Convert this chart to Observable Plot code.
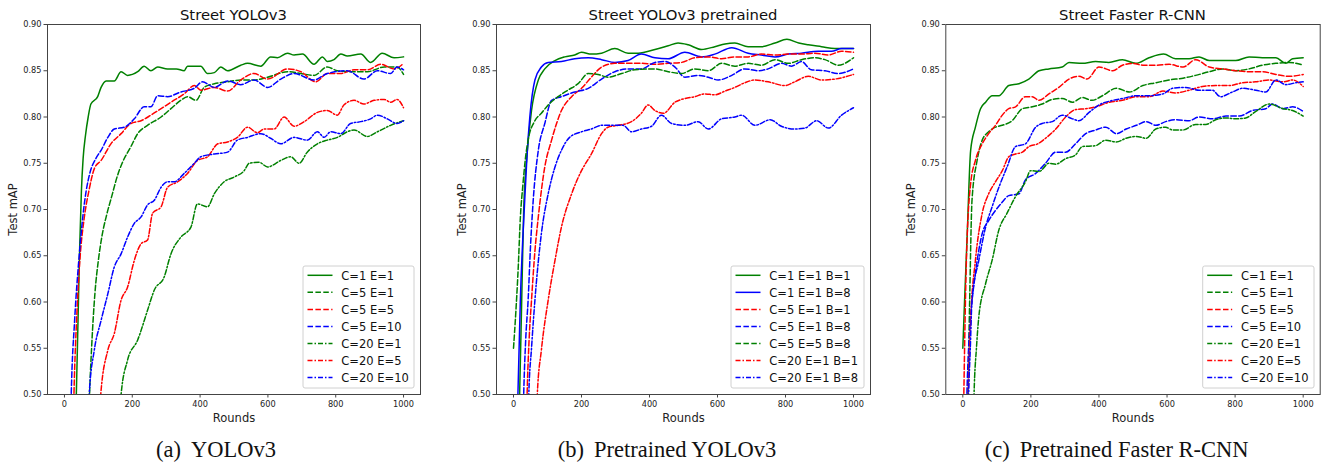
<!DOCTYPE html>
<html><head><meta charset="utf-8">
<script src="https://cdn.jsdelivr.net/npm/d3@7"></script>
<script src="https://cdn.jsdelivr.net/npm/@observablehq/plot@0.6"></script>
<style>
body{margin:0;background:#fff;}
#fig{position:relative;width:1323px;height:466px;overflow:hidden;background:#fff;}
.panel{position:absolute;top:0;}
.panel svg{overflow:visible;}
[aria-label="x-axis label"],[aria-label="y-axis label"]{font-size:11.5px;}
#overlay{position:absolute;left:0;top:0;pointer-events:none;}
</style></head>
<body><div id="fig"></div>
<script>
// ---------- data ----------
const xTicks = [0, 200, 400, 600, 800, 1000];
const yTicks = [0.50, 0.55, 0.60, 0.65, 0.70, 0.75, 0.80, 0.85, 0.90];
const titles = ["Street YOLOv3", "Street YOLOv3 pretrained", "Street Faster R-CNN"];
const captionTags = ["(a)", "(b)", "(c)"];
const captionTexts = ["YOLOv3", "Pretrained YOLOv3", "Pretrained Faster R-CNN"];
const labelsA = ["C=1 E=1", "C=5 E=1", "C=5 E=5", "C=5 E=10", "C=20 E=1", "C=20 E=5", "C=20 E=10"];
const labelsB = ["C=1 E=1 B=1", "C=1 E=1 B=8", "C=5 E=1 B=1", "C=5 E=1 B=8", "C=5 E=5 B=8", "C=20 E=1 B=1", "C=20 E=1 B=8"];
const labelsC = ["C=1 E=1", "C=5 E=1", "C=5 E=5", "C=5 E=10", "C=20 E=1", "C=20 E=5", "C=20 E=10"];

// Panel (a) Street YOLOv3 : [round, mAP]
const a_c1e1 = [[31,0.45],[35,0.50],[40,0.58],[45,0.66],[50,0.72],[55,0.755],[62,0.78],[70,0.80],[78,0.814],[98,0.822],[108,0.832],[123,0.839],[147,0.839],[167,0.849],[186,0.845],[216,0.849],[235,0.855],[255,0.850],[275,0.854],[304,0.852],[330,0.852],[353,0.850],[363,0.855],[402,0.855],[422,0.847],[442,0.848],[461,0.854],[481,0.850],[520,0.856],[540,0.858],[579,0.855],[608,0.865],[628,0.864],[658,0.869],[677,0.867],[702,0.868],[736,0.857],[761,0.865],[775,0.860],[795,0.862],[815,0.868],[834,0.866],[874,0.868],[903,0.859],[937,0.869],[972,0.864],[1000,0.865]];
const a_c5e1 = [[70,0.45],[74,0.50],[80,0.55],[90,0.61],[100,0.645],[110,0.67],[125,0.695],[140,0.715],[155,0.735],[170,0.75],[196,0.768],[216,0.782],[245,0.791],[285,0.800],[314,0.809],[343,0.818],[363,0.822],[388,0.818],[412,0.832],[442,0.836],[481,0.838],[520,0.840],[559,0.840],[599,0.843],[658,0.849],[697,0.847],[736,0.845],[775,0.854],[805,0.850],[844,0.849],[893,0.849],[943,0.854],[981,0.854],[1000,0.846]];
const a_c5e5 = [[25,0.45],[28,0.50],[37,0.59],[46,0.648],[58,0.69],[72,0.72],[89,0.745],[108,0.753],[137,0.771],[167,0.782],[196,0.793],[226,0.796],[255,0.802],[285,0.809],[314,0.816],[353,0.825],[383,0.834],[402,0.829],[442,0.832],[481,0.828],[520,0.840],[559,0.847],[599,0.841],[658,0.852],[697,0.849],[741,0.838],[775,0.847],[815,0.847],[854,0.851],[893,0.851],[933,0.857],[972,0.852],[1000,0.858]];
const a_c5e10 = [[17,0.45],[20,0.50],[30,0.58],[43,0.648],[55,0.695],[64,0.72],[74,0.738],[94,0.756],[108,0.764],[128,0.778],[147,0.787],[177,0.789],[206,0.798],[235,0.811],[255,0.811],[275,0.823],[304,0.822],[343,0.827],[383,0.831],[407,0.838],[442,0.832],[481,0.839],[520,0.835],[559,0.840],[599,0.832],[638,0.841],[677,0.847],[736,0.840],[775,0.847],[834,0.850],[883,0.841],[923,0.850],[962,0.847],[981,0.854],[1000,0.851]];
const a_c20e1 = [[163,0.47],[167,0.50],[186,0.537],[216,0.559],[245,0.591],[265,0.613],[294,0.627],[314,0.652],[343,0.670],[373,0.681],[392,0.706],[422,0.703],[442,0.717],[471,0.730],[500,0.735],[530,0.742],[545,0.750],[574,0.751],[599,0.746],[638,0.753],[667,0.757],[692,0.750],[716,0.762],[746,0.771],[775,0.775],[805,0.778],[834,0.784],[854,0.786],[893,0.779],[923,0.784],[962,0.791],[1000,0.796]];
const a_c20e5 = [[103,0.47],[107,0.50],[128,0.548],[147,0.566],[167,0.602],[186,0.616],[206,0.645],[226,0.663],[245,0.667],[260,0.696],[285,0.703],[304,0.724],[334,0.730],[363,0.739],[392,0.753],[422,0.757],[452,0.771],[481,0.773],[510,0.778],[540,0.789],[569,0.783],[589,0.787],[618,0.787],[648,0.800],[677,0.790],[707,0.795],[746,0.805],[775,0.807],[805,0.802],[824,0.813],[854,0.818],[883,0.814],[913,0.818],[943,0.819],[962,0.816],[981,0.819],[1000,0.810]];
const a_c20e10 = [[69,0.45],[73,0.50],[88,0.548],[108,0.580],[128,0.609],[147,0.638],[167,0.652],[186,0.670],[206,0.685],[226,0.692],[245,0.705],[265,0.710],[285,0.724],[304,0.730],[324,0.730],[353,0.739],[383,0.750],[402,0.757],[442,0.760],[481,0.762],[510,0.775],[540,0.778],[579,0.782],[608,0.777],[638,0.771],[677,0.778],[716,0.775],[746,0.784],[766,0.778],[785,0.784],[815,0.782],[844,0.793],[874,0.795],[903,0.798],[923,0.802],[952,0.798],[981,0.793],[1000,0.796]];

// Panel (b) Street YOLOv3 pretrained
const b_c1e1b1 = [[14,0.45],[18,0.50],[24,0.60],[30,0.70],[40,0.76],[53,0.807],[73,0.840],[92,0.852],[122,0.861],[151,0.865],[180,0.867],[200,0.870],[229,0.868],[259,0.869],[298,0.874],[337,0.869],[367,0.869],[416,0.873],[455,0.877],[484,0.880],[514,0.878],[553,0.873],[592,0.876],[622,0.879],[651,0.880],[690,0.876],[729,0.876],[769,0.880],[804,0.884],[839,0.880],[867,0.878],[906,0.876],[945,0.874],[1000,0.874]];
const b_c1e1b8 = [[10,0.45],[13,0.50],[20,0.60],[33,0.710],[40,0.76],[48,0.800],[63,0.840],[82,0.854],[102,0.859],[141,0.860],[180,0.863],[220,0.864],[259,0.862],[298,0.859],[337,0.861],[376,0.868],[416,0.864],[455,0.863],[504,0.870],[553,0.865],[592,0.868],[642,0.875],[690,0.869],[729,0.867],[769,0.865],[808,0.868],[847,0.869],[896,0.871],[935,0.871],[965,0.874],[1000,0.874]];
const b_c5e1b1 = [[37,0.45],[40,0.50],[46,0.56],[53,0.602],[63,0.655],[73,0.692],[92,0.746],[112,0.775],[141,0.807],[171,0.822],[200,0.831],[229,0.843],[259,0.854],[298,0.858],[337,0.858],[376,0.858],[416,0.857],[455,0.858],[494,0.859],[533,0.864],[573,0.865],[612,0.863],[651,0.865],[690,0.865],[729,0.868],[769,0.867],[808,0.868],[847,0.868],[886,0.869],[925,0.867],[965,0.871],[1000,0.870]];
const b_c5e1b8 = [[27,0.45],[30,0.50],[36,0.56],[43,0.602],[50,0.66],[58,0.710],[73,0.764],[92,0.793],[112,0.818],[141,0.822],[180,0.827],[220,0.831],[259,0.841],[298,0.849],[337,0.852],[376,0.852],[416,0.859],[445,0.860],[475,0.854],[504,0.843],[543,0.845],[573,0.843],[602,0.840],[642,0.845],[680,0.852],[720,0.850],[749,0.852],[788,0.858],[818,0.855],[847,0.860],[876,0.851],[916,0.850],[955,0.847],[1000,0.852]];
const b_c5e5b8 = [[0,0.55],[7,0.59],[14,0.638],[20,0.69],[28,0.728],[35,0.755],[43,0.775],[63,0.796],[82,0.804],[102,0.813],[131,0.822],[160,0.829],[190,0.836],[220,0.847],[249,0.846],[278,0.843],[318,0.847],[357,0.851],[416,0.852],[455,0.849],[494,0.847],[533,0.852],[573,0.850],[612,0.858],[651,0.855],[690,0.858],[729,0.856],[769,0.862],[808,0.858],[847,0.862],[886,0.864],[916,0.862],[955,0.856],[1000,0.864]];
const b_c20e1b1 = [[66,0.45],[70,0.50],[82,0.548],[102,0.602],[122,0.645],[141,0.681],[171,0.717],[200,0.742],[229,0.760],[259,0.782],[278,0.789],[308,0.791],[347,0.795],[376,0.804],[396,0.813],[416,0.807],[441,0.804],[475,0.816],[504,0.820],[533,0.822],[563,0.825],[592,0.824],[622,0.828],[651,0.832],[680,0.837],[710,0.840],[749,0.838],[798,0.834],[827,0.838],[867,0.844],[906,0.840],[945,0.841],[1000,0.846]];
const b_c20e1b8 = [[42,0.45],[45,0.50],[53,0.55],[63,0.602],[82,0.674],[102,0.717],[122,0.746],[141,0.764],[165,0.778],[200,0.784],[229,0.787],[259,0.791],[298,0.791],[322,0.791],[347,0.784],[376,0.787],[406,0.790],[435,0.802],[465,0.793],[504,0.791],[543,0.795],[573,0.787],[612,0.798],[651,0.800],[671,0.802],[710,0.791],[755,0.797],[788,0.790],[827,0.787],[857,0.788],[892,0.796],[926,0.788],[965,0.802],[1000,0.810]];

// Panel (c) Street Faster R-CNN
const c_c1e1 = [[0,0.55],[5,0.60],[13,0.674],[23,0.764],[37,0.789],[52,0.809],[67,0.816],[86,0.823],[106,0.823],[135,0.834],[165,0.836],[194,0.841],[224,0.850],[253,0.852],[292,0.854],[312,0.859],[351,0.858],[390,0.860],[429,0.859],[469,0.862],[508,0.858],[547,0.864],[590,0.868],[625,0.863],[665,0.863],[694,0.865],[724,0.861],[763,0.861],[802,0.861],[841,0.865],[880,0.864],[920,0.864],[949,0.858],[969,0.863],[1000,0.864]];
const c_c5e1 = [[12,0.45],[15,0.50],[20,0.60],[27,0.710],[42,0.753],[57,0.775],[76,0.784],[96,0.789],[116,0.791],[145,0.796],[175,0.809],[204,0.811],[233,0.814],[263,0.819],[292,0.820],[322,0.816],[351,0.821],[380,0.818],[410,0.823],[451,0.831],[490,0.827],[529,0.834],[567,0.837],[606,0.840],[647,0.842],[684,0.845],[724,0.849],[763,0.852],[802,0.850],[841,0.852],[880,0.856],[920,0.858],[959,0.859],[1000,0.856]];
const c_c5e5 = [[1,0.45],[3,0.50],[10,0.638],[23,0.728],[37,0.753],[57,0.771],[76,0.782],[96,0.791],[116,0.802],[135,0.809],[155,0.811],[184,0.822],[204,0.822],[224,0.818],[253,0.825],[282,0.832],[312,0.841],[341,0.844],[365,0.841],[400,0.854],[441,0.850],[469,0.856],[500,0.858],[529,0.856],[567,0.856],[606,0.857],[647,0.854],[684,0.862],[724,0.854],[763,0.852],[802,0.850],[841,0.849],[880,0.849],[920,0.846],[959,0.844],[1000,0.846]];
const c_c5e10 = [[9,0.45],[12,0.50],[17,0.55],[23,0.584],[37,0.631],[57,0.674],[76,0.688],[96,0.699],[116,0.708],[135,0.715],[165,0.717],[184,0.732],[214,0.739],[243,0.750],[273,0.762],[302,0.762],[331,0.771],[361,0.782],[390,0.786],[420,0.789],[451,0.782],[480,0.787],[510,0.791],[539,0.795],[567,0.791],[596,0.795],[625,0.797],[665,0.796],[694,0.800],[733,0.798],[773,0.801],[812,0.801],[851,0.807],[890,0.809],[910,0.814],[941,0.809],[969,0.811],[1000,0.806]];
const c_c20e1 = [[30,0.45],[33,0.50],[40,0.55],[47,0.584],[67,0.620],[86,0.645],[106,0.678],[130,0.696],[155,0.714],[184,0.730],[199,0.742],[224,0.741],[253,0.750],[273,0.749],[302,0.755],[331,0.759],[351,0.768],[390,0.769],[420,0.775],[451,0.773],[480,0.777],[510,0.779],[539,0.777],[567,0.787],[596,0.789],[616,0.786],[647,0.786],[684,0.792],[714,0.792],[743,0.797],[773,0.799],[802,0.798],[831,0.799],[861,0.806],[900,0.814],[941,0.809],[969,0.807],[1000,0.801]];
const c_c20e5 = [[13,0.45],[16,0.50],[23,0.58],[37,0.645],[57,0.696],[76,0.717],[96,0.730],[116,0.742],[135,0.757],[155,0.760],[175,0.762],[194,0.768],[220,0.771],[243,0.777],[273,0.787],[302,0.800],[331,0.808],[361,0.809],[390,0.811],[431,0.816],[469,0.818],[510,0.822],[547,0.822],[588,0.828],[625,0.826],[665,0.829],[704,0.833],[743,0.834],[782,0.834],[822,0.837],[861,0.838],[900,0.840],[941,0.838],[969,0.840],[1000,0.833]];
const c_c20e10 = [[14,0.45],[17,0.50],[22,0.55],[27,0.602],[47,0.645],[67,0.681],[86,0.703],[106,0.724],[130,0.746],[155,0.768],[184,0.771],[214,0.789],[233,0.793],[263,0.795],[292,0.802],[322,0.798],[341,0.796],[371,0.805],[400,0.813],[441,0.818],[469,0.820],[510,0.823],[547,0.823],[588,0.825],[616,0.831],[655,0.832],[694,0.829],[733,0.829],[757,0.822],[792,0.827],[822,0.831],[861,0.829],[890,0.827],[920,0.840],[949,0.835],[978,0.837],[1000,0.838]];

// ---------- styles & layout ----------
const G = "#008000", R = "#ff0000", B = "#0000ff";
const SOLID = null, DASH = "5.5,2.4", DASHDOT = "5,2,1.5,2";
const styleA = [[G,SOLID],[G,DASH],[R,DASH],[B,DASH],[G,DASHDOT],[R,DASHDOT],[B,DASHDOT]];
const styleB = [[G,SOLID],[B,SOLID],[R,DASH],[B,DASH],[G,DASH],[R,DASHDOT],[B,DASHDOT]];

const panels = [
  {series:[a_c1e1,a_c5e1,a_c5e5,a_c5e10,a_c20e1,a_c20e5,a_c20e10], labels:labelsA, style:styleA,
   left:0, width:441, ml:47, mr:21, legendX:303, legendW:111, capX:216},
  {series:[b_c1e1b1,b_c1e1b8,b_c5e1b1,b_c5e1b8,b_c5e5b8,b_c20e1b1,b_c20e1b8], labels:labelsB, style:styleB,
   left:441, width:441, ml:55, mr:12, legendX:731, legendW:133, capX:667},
  {series:[c_c1e1,c_c5e1,c_c5e5,c_c5e10,c_c20e1,c_c20e5,c_c20e10], labels:labelsC, style:styleA,
   left:882, width:441, ml:63.3, mr:3.3, legendX:1202.7, legendW:111.3, capX:1116.7}
];
const H = 430, MT = 24, MB = 36;

const fig = document.getElementById("fig");
panels.forEach((p, k) => {
  const lines = p.series.map((pts, i) => Plot.line(pts, {
    x: d => d[0], y: d => d[1],
    stroke: p.style[i][0], strokeWidth: 1.5,
    strokeDasharray: p.style[i][1] || undefined,
    curve: "monotone-x", clip: true
  }));
  const chart = Plot.plot({
    width: p.width, height: H,
    marginLeft: p.ml, marginRight: p.mr, marginTop: MT, marginBottom: MB,
    style: {fontFamily: "DejaVu Sans", background: "transparent", color: "#222"},
    x: {domain: [-50, 1050]},
    y: {domain: [0.5, 0.9]},
    marks: [
      ...lines,
      Plot.frame({stroke: "#444", strokeWidth: 1}),
      Plot.axisX({ticks: xTicks, tickFormat: d3.format("d"), tickSize: 3.5, tickPadding: 3, fontSize: 8.2, stroke: "#444",
        label: "Rounds", labelAnchor: "center", labelOffset: 27, labelArrow: "none"}),
      Plot.axisY({ticks: yTicks, tickFormat: d3.format(".2f"), tickSize: 3.5, tickPadding: 2.5, fontSize: 8.2, stroke: "#444",
        label: "Test mAP", labelAnchor: "center", labelOffset: 38.5, labelArrow: "none"})
    ]
  });
  const div = document.createElement("div");
  div.className = "panel";
  div.style.left = p.left + "px";
  div.appendChild(chart);
  fig.appendChild(div);
});

// overlay: titles, legends, captions
const svg = d3.select(fig).append("svg").attr("id", "overlay")
  .attr("width", 1323).attr("height", 466);
panels.forEach((p, k) => {
  const cx = p.left + p.ml + (p.width - p.ml - p.mr) / 2;
  svg.append("text").attr("x", cx).attr("y", 19.5).attr("text-anchor", "middle")
    .attr("font-family", "DejaVu Sans").attr("font-size", 14.8).attr("fill", "#111")
    .text(titles[k]);
  const cap = svg.append("text").attr("x", p.capX).attr("y", 457).attr("text-anchor", "middle")
    .attr("font-family", "Liberation Serif").attr("font-size", 22.5).attr("fill", "#111");
  cap.append("tspan").text(captionTags[k]);
  cap.append("tspan").attr("dx", 10).text(captionTexts[k]);
  const lg = svg.append("g");
  lg.append("rect").attr("x", p.legendX).attr("y", 266).attr("width", p.legendW).attr("height", 122)
    .attr("rx", 2).attr("fill", "#fff").attr("fill-opacity", 0.85).attr("stroke", "#d0d0d0");
  p.labels.forEach((lab, i) => {
    const y = 275.3 + 17.05 * i;
    lg.append("line").attr("x1", p.legendX + 4.5).attr("x2", p.legendX + 29.5).attr("y1", y).attr("y2", y)
      .attr("stroke", p.style[i][0]).attr("stroke-width", 1.5)
      .attr("stroke-dasharray", p.style[i][1] || null);
    lg.append("text").attr("x", p.legendX + 38.3).attr("y", y + 4.2)
      .attr("font-family", "DejaVu Sans").attr("font-size", 11.5).attr("fill", "#111").text(lab);
  });
});
</script></body></html>
